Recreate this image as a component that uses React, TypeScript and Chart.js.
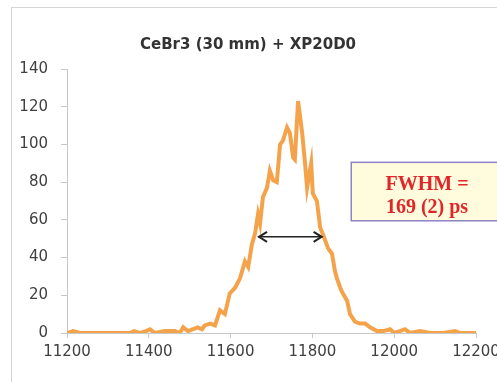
import React, { useEffect, useRef } from "react";
import { Chart, registerables } from "chart.js";

Chart.register(...registerables);

const timeValues = [
  11200, 11215, 11232, 11300, 11354, 11364, 11378, 11393, 11403, 11415, 11440, 11464, 11476, 11484, 11496,
  11508, 11520, 11530, 11537, 11550, 11562, 11574, 11586, 11598, 11611, 11623, 11635, 11643, 11652, 11660,
  11667, 11672, 11679, 11689, 11696, 11704, 11713, 11721, 11728, 11738, 11745, 11753, 11757, 11765, 11775,
  11782, 11787, 11797, 11801, 11811, 11819, 11828, 11838, 11848, 11855, 11860, 11868, 11872, 11885, 11892,
  11904, 11916, 11929, 11941, 11958, 11973, 11990, 12000, 12014, 12026, 12039, 12063, 12088, 12120, 12149,
  12161, 12200,
];
const countValues = [
  0, 1, 0, 0, 0, 1, 0, 1, 2, 0, 1, 1, 0, 3, 1,
  2, 3, 2, 4, 5, 4, 12, 10, 21, 24, 29, 38, 35, 47, 53,
  63, 58, 72, 77, 86, 81, 80, 100, 102, 109, 106, 93, 92, 123, 106,
  90, 77, 90, 74, 70, 56, 51, 45, 42, 33, 29, 24, 22, 17, 10,
  6, 5, 5, 3, 1, 1, 2, 0, 1, 2, 0, 1, 0, 0, 1,
  0, 0,
];
const xTicks = [11200, 11400, 11600, 11800, 12000, 12200];
const yTicks = [0, 20, 40, 60, 80, 100, 120, 140];
const titleText = "CeBr3 (30 mm) + XP20D0";
const fwhmLines = ["FWHM =", "169 (2) ps"];
const arrowFrom = 11667;
const arrowTo = 11825;
const arrowLevel = 51;

export default function App() {
  const ref = useRef<HTMLCanvasElement | null>(null);
  useEffect(() => {
    if (!ref.current) return;
    const overlay = {
      id: "overlay",
      afterDatasetsDraw(chart: any) {
        const { ctx, scales } = chart;
        const xs = scales.x;
        const ys = scales.y;
        const x1 = xs.getPixelForValue(arrowFrom);
        const x2 = xs.getPixelForValue(arrowTo);
        const y = ys.getPixelForValue(arrowLevel);
        ctx.save();
        // title
        ctx.fillStyle = "#333";
        ctx.font = "bold 15px 'DejaVu Sans', sans-serif";
        ctx.textAlign = "center";
        ctx.textBaseline = "middle";
        ctx.fillText(titleText, 248, 45);
        // arrow
        ctx.strokeStyle = "#222";
        ctx.lineWidth = 1.5;
        ctx.beginPath();
        ctx.moveTo(x1, y);
        ctx.lineTo(x2, y);
        ctx.stroke();
        ctx.lineWidth = 2;
        ctx.beginPath();
        ctx.moveTo(x1 + 9, y - 5);
        ctx.lineTo(x1 + 1, y);
        ctx.lineTo(x1 + 9, y + 5);
        ctx.moveTo(x2 - 9, y - 5);
        ctx.lineTo(x2 - 1, y);
        ctx.lineTo(x2 - 9, y + 5);
        ctx.stroke();
        // box
        const bx = xs.getPixelForValue(11895);
        const byTop = ys.getPixelForValue(90.5);
        const byBot = ys.getPixelForValue(59.5);
        const bw = 180;
        ctx.fillStyle = "#fffbdc";
        ctx.fillRect(bx, byTop, bw, byBot - byTop);
        ctx.strokeStyle = "#8c84c4";
        ctx.lineWidth = 1.5;
        ctx.strokeRect(bx, byTop, bw, byBot - byTop);
        ctx.fillStyle = "#e0262a";
        ctx.font = "bold 20px 'Liberation Serif', serif";
        const cx = 427;
        ctx.fillText(fwhmLines[0], cx, byTop + 22);
        ctx.fillText(fwhmLines[1], cx, byTop + 45);
        ctx.restore();
      },
    };
    const chart = new Chart(ref.current, {
      type: "scatter",
      data: {
        datasets: [
          {
            data: timeValues.map((t, i) => ({ x: t, y: countValues[i] })),
            showLine: true,
            borderColor: "#f5a34a",
            borderWidth: 4,
            pointRadius: 0,
            tension: 0,
          },
        ],
      },
      options: {
        animation: false,
        responsive: false,
        layout: { padding: { top: 69, right: 44, left: 0, bottom: 16 } },
        plugins: {
          legend: { display: false },
          tooltip: { enabled: false },
          title: { display: false },
        },
        scales: {
          x: {
            type: "linear",
            min: 11200,
            max: 12200,
            afterBuildTicks: (s: any) => {
              s.ticks = xTicks.map((v) => ({ value: v }));
            },
            grid: { drawOnChartArea: false, tickLength: 5, color: "#c8c8c8" },
            border: { color: "#c8c8c8" },
            ticks: {
              color: "#404040",
              font: { family: "'DejaVu Sans', sans-serif", size: 15 },
              padding: 5,
              maxRotation: 0,
              callback: (v: any) => String(v),
            },
          },
          y: {
            min: 0,
            max: 140,
            afterBuildTicks: (s: any) => {
              s.ticks = yTicks.map((v) => ({ value: v }));
            },
            afterFit: (s: any) => {
              s.width = 67;
            },
            grid: { drawOnChartArea: false, tickLength: 6, color: "#c8c8c8" },
            border: { color: "#c8c8c8" },
            ticks: {
              color: "#404040",
              font: { family: "'DejaVu Sans', sans-serif", size: 15 },
              padding: 13,
              callback: (v: any) => String(v),
            },
          },
        },
      },
      plugins: [overlay],
    });
    return () => chart.destroy();
  }, []);
  return (
    <div
      style={{
        position: "fixed",
        left: 0,
        top: 0,
        width: 497,
        height: 382,
        overflow: "hidden",
        background: "#fff",
      }}
    >
      <div
        style={{
          position: "absolute",
          left: 11,
          top: 7,
          width: 520,
          height: 400,
          borderLeft: "1.5px solid #d4d4d4",
          borderTop: "1.5px solid #d4d4d4",
        }}
      />
      <canvas ref={ref} width={520} height={382} style={{ position: "absolute", left: 0, top: 0 }} />
    </div>
  );
}
